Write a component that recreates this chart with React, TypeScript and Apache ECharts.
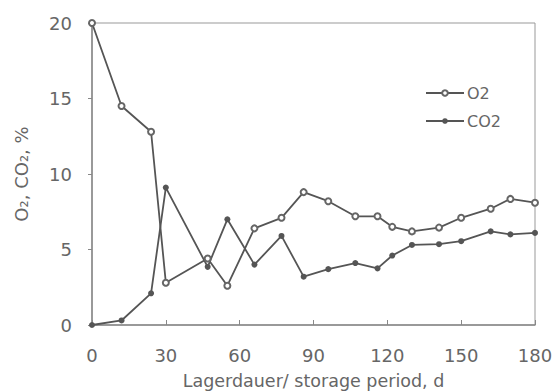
import React, { useEffect, useRef } from "react";
import * as echarts from "echarts";

const days = [0, 12, 24, 30, 47, 55, 66, 77, 86, 96, 107, 116, 122, 130, 141, 150, 162, 170, 180];
const o2 = [20, 14.5, 12.8, 2.8, 4.4, 2.6, 6.4, 7.1, 8.8, 8.2, 7.2, 7.2, 6.5, 6.2, 6.45, 7.1, 7.7, 8.35, 8.1];
const co2 = [0, 0.3, 2.1, 9.1, 3.85, 7.0, 4.0, 5.9, 3.2, 3.7, 4.1, 3.75, 4.6, 5.3, 5.35, 5.55, 6.2, 6.0, 6.1];
const xTicks = [0, 30, 60, 90, 120, 150, 180];
const yTicks = [0, 5, 10, 15, 20];

const FONT = "DejaVu Sans, Liberation Sans, sans-serif";
const TXT = "#666";
const LINE = "#555";

export default function App() {
  const ref = useRef<HTMLDivElement>(null);
  useEffect(() => {
    if (!ref.current) return;
    const chart = echarts.init(ref.current, undefined, { renderer: "svg" });
    chart.setOption({
      animation: false,
      backgroundColor: "#fff",
      grid: {
        left: 92,
        right: 19,
        top: 23,
        bottom: 66,
        show: true,
        borderColor: "#999",
        borderWidth: 1,
        containLabel: false,
        outerBoundsMode: "none",
      },
      legend: {
        orient: "vertical",
        left: 420,
        top: 80,
        itemWidth: 38,
        itemHeight: 7,
        itemGap: 12,
        textStyle: { fontFamily: FONT, fontSize: 16, color: TXT, padding: [0, 0, 0, -2] },
        data: ["O2", "CO2"],
      },
      xAxis: {
        type: "value",
        min: 0,
        max: 180,
        interval: 30,
        name: "Lagerdauer/ storage period, d",
        nameLocation: "middle",
        nameGap: 46,
        nameTextStyle: { fontFamily: FONT, fontSize: 17.5, color: TXT, lineHeight: 19 },
        axisLine: { lineStyle: { color: "#888", width: 1.5 } },
        axisTick: { inside: true, length: 5, lineStyle: { color: "#888" } },
        axisLabel: {
          fontFamily: FONT,
          fontSize: 18,
          color: TXT,
          margin: 21,
          formatter: (v: number) => (xTicks.includes(v) ? String(v) : ""),
        },
        splitLine: { show: false },
      },
      yAxis: {
        type: "value",
        min: 0,
        max: 20,
        interval: 5,
        name: "O₂, CO₂, %",
        nameLocation: "middle",
        nameGap: 62,
        nameTextStyle: { fontFamily: FONT, fontSize: 18, color: TXT },
        axisLine: { show: true, lineStyle: { color: "#888", width: 1.5 } },
        axisTick: { show: true, length: 4, lineStyle: { color: "#888" } },
        axisLabel: {
          fontFamily: FONT,
          fontSize: 18,
          color: TXT,
          margin: 20,
          formatter: (v: number) => (yTicks.includes(v) ? String(v) : ""),
        },
        splitLine: { show: false },
      },
      series: [
        {
          name: "O2",
          type: "line",
          data: days.map((d, i) => [d, o2[i]]),
          symbol: "emptyCircle",
          symbolSize: 6,
          lineStyle: { color: LINE, width: 1.8 },
          itemStyle: { color: "#666", borderColor: "#666", borderWidth: 1.2 },
        },
        {
          name: "CO2",
          type: "line",
          data: days.map((d, i) => [d, co2[i]]),
          symbol: "circle",
          symbolSize: 6,
          lineStyle: { color: LINE, width: 1.8 },
          itemStyle: { color: "#555" },
        },
      ],
    });
    return () => chart.dispose();
  }, []);
  return <div ref={ref} style={{ width: 554, height: 391, position: "absolute", left: 0, top: 0 }} />;
}
